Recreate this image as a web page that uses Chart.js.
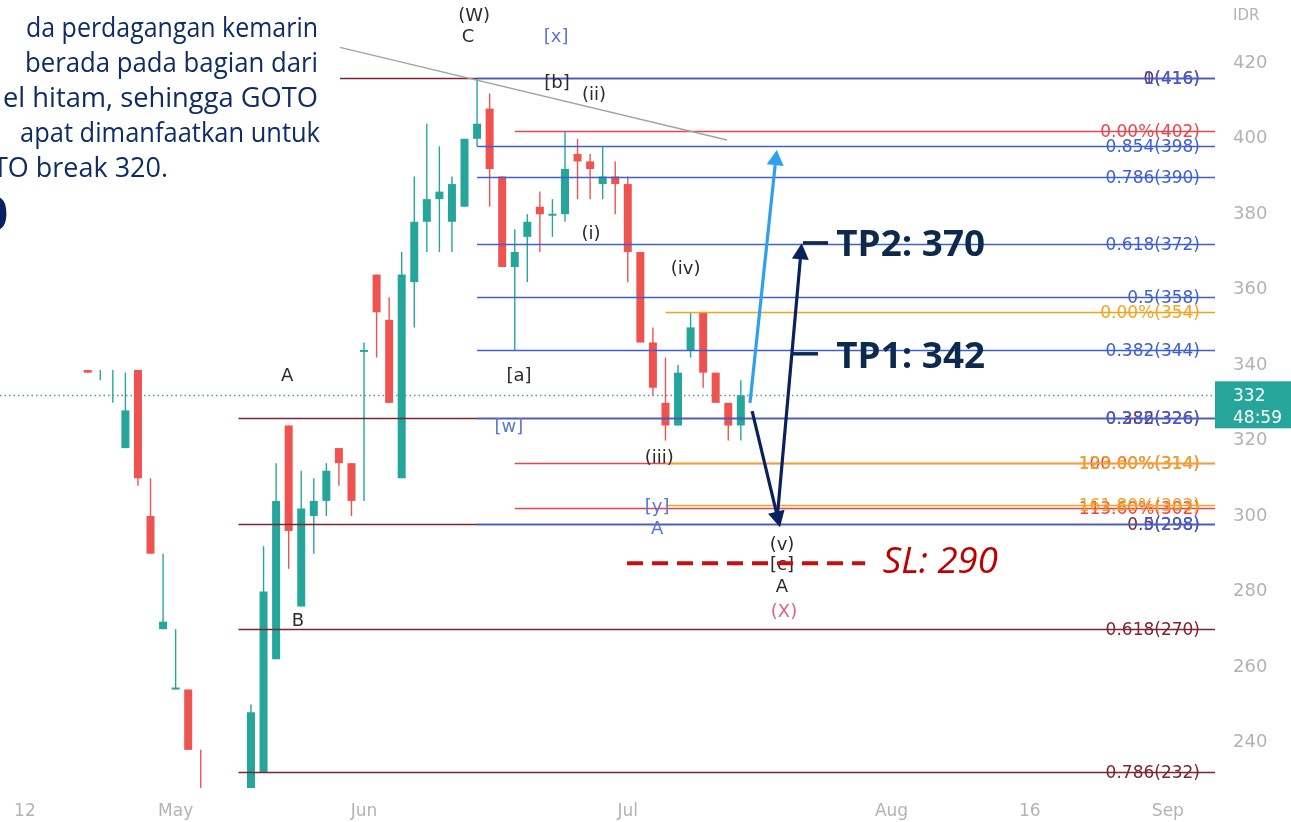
<!DOCTYPE html>
<html>
<head>
<meta charset="utf-8">
<title>GOTO daily</title>
<script src="https://cdn.jsdelivr.net/npm/chart.js@4.4.0/dist/chart.umd.min.js"></script>
<style>
  html, body { margin: 0; padding: 0; background: #ffffff; }
  #wrap { width: 1291px; height: 822px; }
</style>
</head>
<body>
<div id="wrap"><canvas id="gotoChart" width="1291" height="822"></canvas></div>
<script>
// Daily candles, bar index 0 = first bar on the left (values in IDR)
const opens  = [344, 341, 340, 318, 346, 300, 270, 254, 254, 226, 214, 206, 216, 222, 232, 262, 324, 276, 300, 304,
                318, 314, 343.5, 364, 352, 310, 362, 378, 384, 378, 382, 400, 408, 390, 366, 374, 382, 379.6, 380, 396,
                394, 388, 390, 388, 370, 346, 330, 324, 344, 354, 338, 330, 324];
const highs  = [346, 350, 350, 338, 348, 310, 290, 270, 254, 238, 218, 220, 226, 250, 292, 314, 324, 312, 310, 314,
                318, 314, 346, 364, 358, 370, 390, 404, 398, 390, 400, 416, 412, 390, 376, 380, 386, 384, 402, 400,
                396, 398, 394, 390, 370, 350, 342, 340, 354, 354, 338, 330, 336];
const lows   = [338, 336, 330, 318, 308, 290, 270, 254, 238, 212, 200, 198, 208, 220, 232, 262, 286, 276, 290, 300,
                308, 300, 304, 342, 330, 310, 350, 370, 370, 370, 382, 398, 382, 366, 344, 362, 370, 374, 378, 384,
                384, 384, 380, 362, 346, 332, 320, 324, 342, 334, 330, 320, 320];
const closes = [338, 346, 346, 328, 310, 290, 272, 254.4, 238, 214, 206, 216, 222, 248, 280, 304, 296, 302, 304, 312,
                314, 304, 344, 354, 330, 364, 378, 384, 386, 388, 400, 404, 392, 366, 370, 378, 380, 380, 392, 394,
                392, 390, 388, 370, 346, 334, 324, 338, 350, 338, 330, 324, 332];

// Time axis labels (bar index -> text)
const xTickIdx  = [-5, 7, 22, 43, 64, 75, 86];
const xTickText = ['12', 'May', 'Jun', 'Jul', 'Aug', '16', 'Sep'];

// Price axis labels
const yTicks = [240, 260, 280, 300, 320, 340, 360, 380, 400, 420];

// Fibonacci drawings: start bar, level names, prices
const fibMaroonFrom = 12;
const fibMaroonLevels = ['0', '0.382', '0.5', '0.618', '0.786'];
const fibMaroonPrices = [416, 326, 298, 270, 232];

const fibBlueFrom = 31;
const fibBlueLevels = ['1', '0.854', '0.786', '0.618', '0.5', '0.382', '0.236', '0'];
const fibBluePrices = [416, 398, 390, 372, 358, 344, 326, 298];

const fibRedFrom = 34;
const fibRedLevels = ['0.00%', '100.00%', '113.60%'];
const fibRedPrices = [402, 314, 302];

const fibOrangeFrom = 46;
const fibOrangeLevels = ['0.00%', '123.60%', '161.80%'];
const fibOrangePrices = [354, 314, 303];

const TEAL = '#26a69a';
const RED = '#ef5350';

const barIdx = closes.map((c, i) => i);
const candleColors = closes.map((c, i) => (c >= opens[i] ? TEAL : RED));

// Elliott wave labels: [text, bar, price, colour]
const waveLabels = [
    ['(W)', 30.76, 432.6, '#2b2b2b'],
    ['C', 30.28, 426.8, '#2b2b2b'],
    ['[x]', 37.3, 426.8, '#5a76d8'],
    ['[b]', 37.36, 414.6, '#2b2b2b'],
    ['(ii)', 40.31, 411.4, '#2b2b2b'],
    ['(i)', 40.07, 374.8, '#2b2b2b'],
    ['(iv)', 47.6, 365.3, '#2b2b2b'],
    ['[a]', 34.34, 336.9, '#2b2b2b'],
    ['A', 15.87, 336.9, '#2b2b2b'],
    ['[w]', 33.54, 323.4, '#5a76d8'],
    ['(iii)', 45.5, 315.2, '#2b2b2b'],
    ['[y]', 45.33, 302.2, '#5a76d8'],
    ['A', 45.33, 296.4, '#5a76d8'],
    ['(v)', 55.28, 292.2, '#2b2b2b'],
    ['[c]', 55.28, 286.9, '#2b2b2b'],
    ['A', 55.28, 281.0, '#2b2b2b'],
    ['(X)', 55.44, 274.4, '#e2657f'],
    ['B', 16.74, 272.2, '#2b2b2b']
];

// Text block in the upper left (cut off on the left side in the original)
const noteLines = [
    ['da perdagangan kemarin', 26, 318, 36.5],
    ['berada pada bagian dari', 25, 318, 71.5],
    ['el hitam, sehingga GOTO', 3, 318, 106.5],
    ['apat dimanfaatkan untuk', 20, 320, 141.5],
    ['TO break 320.', -7, 168, 176.5]
];

function fitText(ctx, text, left, right, baseline, font, color) {
    ctx.save();
    ctx.font = font;
    ctx.fillStyle = color;
    ctx.textAlign = 'left';
    ctx.textBaseline = 'alphabetic';
    const w = ctx.measureText(text).width;
    ctx.translate(left, baseline);
    ctx.scale((right - left) / w, 1);
    ctx.fillText(text, 0, 0);
    ctx.restore();
}

function drawArrow(ctx, x1, y1, x2, y2, color, width, headLen, headW) {
    const ang = Math.atan2(y2 - y1, x2 - x1);
    const bx = x2 - headLen * Math.cos(ang);
    const by = y2 - headLen * Math.sin(ang);
    ctx.save();
    ctx.strokeStyle = color;
    ctx.fillStyle = color;
    ctx.lineWidth = width;
    ctx.lineCap = 'butt';
    ctx.beginPath();
    ctx.moveTo(x1, y1);
    ctx.lineTo(bx, by);
    ctx.stroke();
    ctx.beginPath();
    ctx.moveTo(x2, y2);
    ctx.lineTo(bx + headW / 2 * Math.sin(ang), by - headW / 2 * Math.cos(ang));
    ctx.lineTo(bx - headW / 2 * Math.sin(ang), by + headW / 2 * Math.cos(ang));
    ctx.closePath();
    ctx.fill();
    ctx.restore();
}

const overlayPlugin = {
    id: 'overlay',
    afterDatasetsDraw(chart) {
        const ctx = chart.ctx;
        const a = chart.chartArea;
        const px = v => chart.scales.x.getPixelForValue(v);
        const py = v => chart.scales.y.getPixelForValue(v);

        ctx.save();
        ctx.beginPath();
        ctx.rect(a.left, a.top, a.right - a.left, a.bottom - a.top);
        ctx.clip();

        // fib levels
        const fibSets = [
            [fibMaroonFrom, fibMaroonLevels, fibMaroonPrices, '#7d2632'],
            [fibBlueFrom, fibBlueLevels, fibBluePrices, '#3f5fd6'],
            [fibRedFrom, fibRedLevels, fibRedPrices, '#e8464f'],
            [fibOrangeFrom, fibOrangeLevels, fibOrangePrices, '#f5a31f']
        ];
        fibSets.forEach(([from, levels, prices, color]) => {
            prices.forEach((p, k) => {
                const yy = Math.round(py(p)) + 0.5;
                ctx.strokeStyle = color;
                ctx.lineWidth = 1.4;
                ctx.beginPath();
                ctx.moveTo(px(from), yy);
                ctx.lineTo(a.right, yy);
                ctx.stroke();
                ctx.fillStyle = color;
                ctx.font = '17px "DejaVu Sans"';
                ctx.textAlign = 'right';
                ctx.textBaseline = 'middle';
                ctx.fillText(levels[k] + '(' + Math.round(p) + ')', a.right - 15, yy + 1);
            });
        });

        // trend line
        ctx.strokeStyle = '#a3a3a3';
        ctx.lineWidth = 1.5;
        ctx.beginPath();
        ctx.moveTo(px(20), py(424.3));
        ctx.lineTo(px(50.9), py(399.7));
        ctx.stroke();

        // last price dotted line
        const lastY = Math.round(py(closes[closes.length - 1])) + 0.5;
        ctx.strokeStyle = '#5a9893';
        ctx.lineWidth = 1.3;
        ctx.setLineDash([1.5, 3]);
        ctx.beginPath();
        ctx.moveTo(a.left, lastY);
        ctx.lineTo(a.right, lastY);
        ctx.stroke();
        ctx.setLineDash([]);

        // white note panel with text
        ctx.fillStyle = '#ffffff';
        ctx.fillRect(0, 0, 340, 370);
        noteLines.forEach(([t, l, r, b]) => {
            fitText(ctx, t, l, r, b, '28px "Open Sans"', '#0f2c66');
        });
        ctx.font = 'bold 46px "Open Sans"';
        ctx.fillStyle = '#0a2160';
        ctx.textAlign = 'right';
        ctx.textBaseline = 'alphabetic';
        ctx.fillText('0', 8, 230);

        // wave labels
        ctx.font = '18px "DejaVu Sans"';
        ctx.textAlign = 'center';
        ctx.textBaseline = 'middle';
        waveLabels.forEach(([t, i, p, c]) => {
            ctx.fillStyle = c;
            ctx.fillText(t, px(i), py(p));
        });

        // SL dashed line and text
        ctx.strokeStyle = '#c70f0f';
        ctx.lineWidth = 4;
        ctx.setLineDash([16, 9]);
        ctx.beginPath();
        ctx.moveTo(px(42.94), py(287.5));
        ctx.lineTo(px(61.9), py(287.5));
        ctx.stroke();
        ctx.setLineDash([]);
        fitText(ctx, 'SL: 290', px(63.3), px(72.47), py(285.0), 'italic 36px "Open Sans"', '#c00000');

        // projection arrows
        drawArrow(ctx, px(52.73), py(330), px(54.86), py(397), '#2f9ff2', 3.2, 15, 17);
        drawArrow(ctx, px(52.9), py(327.8), px(55.12), py(297), '#0b215e', 3.2, 16, 17);
        drawArrow(ctx, px(54.88), py(298.9), px(56.85), py(372.3), '#0b215e', 3.2, 16, 17);

        // take-profit marks
        const tps = [
            ['TP2: 370', 56.95, 58.94, 372.4, 368.8],
            ['TP1: 342', 56.15, 58.14, 343.0, 339.2]
        ];
        tps.forEach(([t, d0, d1, dp, bp]) => {
            ctx.strokeStyle = '#0d2a4c';
            ctx.lineWidth = 3.5;
            ctx.beginPath();
            ctx.moveTo(px(d0), py(dp));
            ctx.lineTo(px(d1), py(dp));
            ctx.stroke();
            fitText(ctx, t, px(59.6), px(71.44), py(bp), 'bold 36px "Open Sans"', '#0d2a4c');
        });

        ctx.restore();
    },
    afterDraw(chart) {
        const ctx = chart.ctx;
        const a = chart.chartArea;
        const py = v => chart.scales.y.getPixelForValue(v);
        const last = closes[closes.length - 1];
        const yy = py(last);
        ctx.save();
        ctx.fillStyle = TEAL;
        ctx.fillRect(a.right, yy - 14, chart.width - a.right, 47);
        ctx.fillStyle = '#ffffff';
        ctx.font = '17px "DejaVu Sans"';
        ctx.textAlign = 'left';
        ctx.textBaseline = 'middle';
        ctx.fillText(String(last), a.right + 18, yy + 1);
        ctx.fillText('48:59', a.right + 18, yy + 23);
        ctx.fillStyle = '#b3b3b3';
        ctx.font = '15px "DejaVu Sans"';
        ctx.fillText('IDR', a.right + 18, 16);
        ctx.restore();
    }
};

new Chart(document.getElementById('gotoChart').getContext('2d'), {
    type: 'bar',
    data: {
        datasets: [
            {
                label: 'wick',
                data: barIdx.map(i => ({ x: i, y: [lows[i], highs[i]] })),
                backgroundColor: candleColors,
                maxBarThickness: 1.4,
                minBarLength: 1,
                grouped: false,
                order: 1
            },
            {
                label: 'body',
                data: barIdx.map(i => ({ x: i, y: [opens[i], closes[i]] })),
                backgroundColor: candleColors,
                maxBarThickness: 8,
                minBarLength: 2,
                grouped: false,
                order: 0
            }
        ]
    },
    options: {
        responsive: false,
        devicePixelRatio: 1,
        animation: false,
        layout: { padding: 0, autoPadding: false },
        plugins: {
            legend: { display: false },
            tooltip: { enabled: false }
        },
        scales: {
            x: {
                type: 'linear',
                offset: false,
                min: -6.983,
                max: 89.752,
                grid: { display: false, drawTicks: false },
                border: { display: false },
                afterBuildTicks: s => { s.ticks = xTickIdx.map(v => ({ value: v })); },
                afterFit: s => { s.height = 34; s.paddingLeft = 0; s.paddingRight = 0; },
                ticks: {
                    autoSkip: false,
                    maxRotation: 0,
                    padding: 13,
                    color: '#b3b3b3',
                    font: { family: '"DejaVu Sans"', size: 17 },
                    callback: v => xTickText[xTickIdx.indexOf(v)]
                }
            },
            y: {
                type: 'linear',
                position: 'right',
                min: 227.89,
                max: 436.797,
                grid: { display: false, drawTicks: false },
                border: { display: false },
                afterBuildTicks: s => { s.ticks = yTicks.map(v => ({ value: v })); },
                afterFit: s => { s.width = 76; s.paddingTop = 0; s.paddingBottom = 0; },
                ticks: {
                    padding: 18,
                    color: '#b3b3b3',
                    font: { family: '"DejaVu Sans"', size: 18 },
                    callback: v => String(v)
                }
            }
        }
    },
    plugins: [overlayPlugin]
});
</script>
</body>
</html>
